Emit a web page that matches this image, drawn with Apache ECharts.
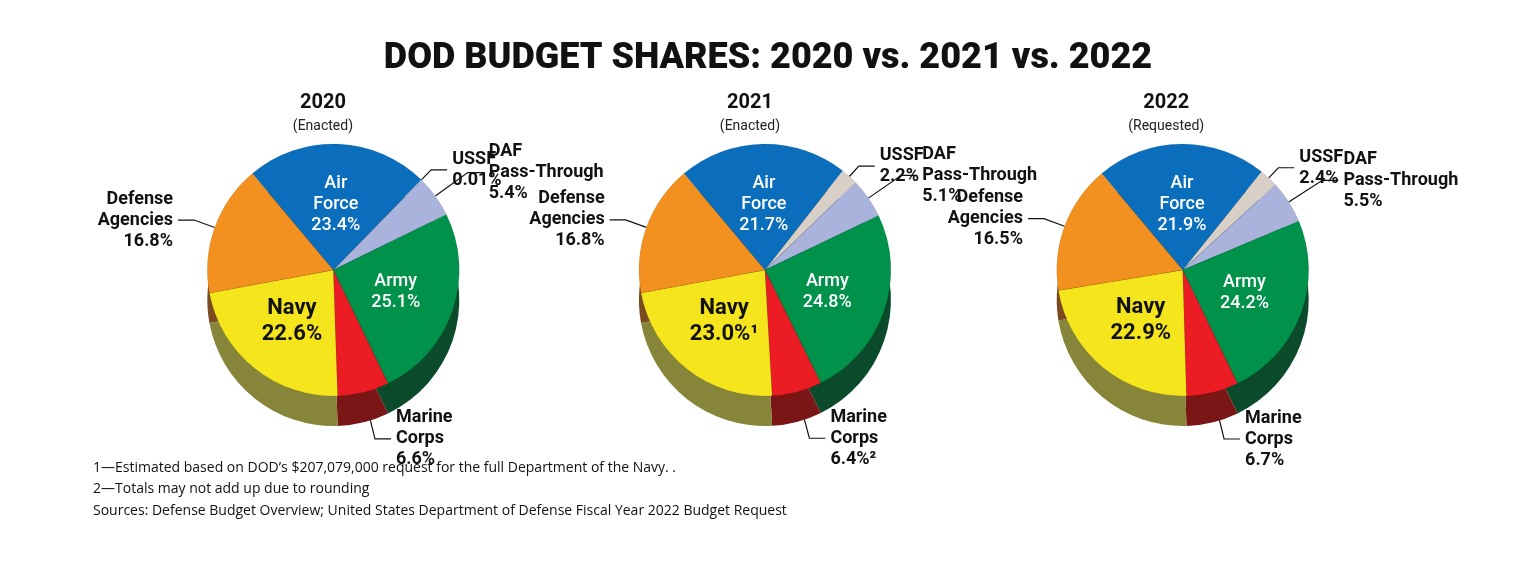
<!DOCTYPE html>
<html>
<head>
<meta charset="utf-8">
<script src="https://cdn.jsdelivr.net/npm/echarts@6/dist/echarts.min.js"></script>
<style>html,body{margin:0;background:#fff}#main{width:1536px;height:576px}</style>
</head>
<body>
<div id="main"></div>
<script>
// slice order clockwise from the top-left
const categories = ['Air Force', 'USSF', 'DAF Pass-Through', 'Army', 'Marine Corps', 'Navy', 'Defense Agencies'];
const years = ['2020', '2021', '2022'];
const statuses = ['(Enacted)', '(Enacted)', '(Requested)'];
const shares2020 = [23.4, 0.01, 5.4, 25.1, 6.6, 22.6, 16.8];
const shares2021 = [21.7, 2.2, 5.1, 24.8, 6.4, 23.0, 16.8];
const shares2022 = [21.9, 2.4, 5.5, 24.2, 6.7, 22.9, 16.5];
const labels2021Suffix = ['', '', '', '', '²', '¹', ''];

const topColors = ['#0a6ebd', '#d8d0c6', '#a9b3dc', '#00924a', '#ec1c24', '#f4e51c', '#f39120'];
const sideColors = ['#06457a', '#8f877d', '#6d7599', '#0b4a2a', '#7a1616', '#86853a', '#7b4a1f'];
const labelNames = ['Air\nForce', 'USSF', 'DAF\nPass-Through', 'Army', 'Marine\nCorps', 'Navy', 'Defense\nAgencies'];
const inside = [true, false, false, true, false, true, false];
const lineLengths = [0, 14, 40, 0, 48, 0, 22];

const allShares = [shares2020, shares2021, shares2022];
const centersX = ['21.7%', '49.8%', '77%'];
const font = 'Roboto, "Noto Sans", sans-serif';

const series = [];
allShares.forEach((shares, yi) => {
  const cx = centersX[yi];
  // depth layer
  series.push({
    type: 'pie', radius: 126, center: [cx, 300], startAngle: 130, silent: true,
    label: { show: false }, labelLine: { show: false },
    data: shares.map((v, i) => ({ value: v, name: categories[i], itemStyle: { color: sideColors[i] } }))
  });
  series.push({
    type: 'pie', radius: 126, center: [cx, 270], startAngle: 130,
    avoidLabelOverlap: false,
    labelLayout: { hideOverlap: false },
    itemStyle: { borderColor: 'rgba(0,0,0,0.15)', borderWidth: 0.5 },
    labelLine: { length2: 16, lineStyle: { color: '#111', width: 1.2 } },
    data: shares.map((v, i) => {
      const txt = labelNames[i] + '\n' + v.toFixed(v < 0.1 ? 2 : 1) + '%' + (yi === 1 ? labels2021Suffix[i] : '');
      const big = i === 5;
      return {
        value: v, name: categories[i],
        itemStyle: { color: topColors[i] },
        labelLine: { length: lineLengths[i] },
        label: inside[i] ? {
          position: 'inside', formatter: txt, fontFamily: font, fontWeight: big ? 'bold' : 500,
          fontSize: big ? 22 : 18, lineHeight: big ? 26 : 21,
          color: i === 5 ? '#111' : '#fff'
        } : {
          position: 'outside', formatter: txt, fontFamily: font, fontWeight: 'bold',
          fontSize: 18, lineHeight: 21, color: '#111', align: 'center'
        }
      };
    })
  });
});

const chart = echarts.init(document.getElementById('main'));
chart.setOption({
  animation: false,
  title: [
    { text: 'DOD BUDGET SHARES: 2020 vs. 2021 vs. 2022', left: 'center', top: 36,
      textStyle: { fontFamily: font, fontWeight: 900, fontSize: 36, color: '#111' } },
    ...years.map((y, i) => ({
      text: y, subtext: statuses[i], left: ['20.7%', '48.5%', '75.6%'][i], top: 88, textAlign: 'center',
      itemGap: 6,
      textStyle: { fontFamily: font, fontWeight: 'bold', fontSize: 20, color: '#111' },
      subtextStyle: { fontFamily: font, fontSize: 14, color: '#222' }
    })),
    { text: '1—Estimated based on DOD’s $207,079,000 request for the full Department of the Navy. .\n2—Totals may not add up due to rounding\nSources: Defense Budget Overview; United States Department of Defense Fiscal Year 2022 Budget Request',
      left: 88, top: 452,
      textStyle: { fontFamily: '"Open Sans", sans-serif', fontWeight: 'normal', fontSize: 14, lineHeight: 21.5, color: '#111' } }
  ],
  series
});
</script>
</body>
</html>
